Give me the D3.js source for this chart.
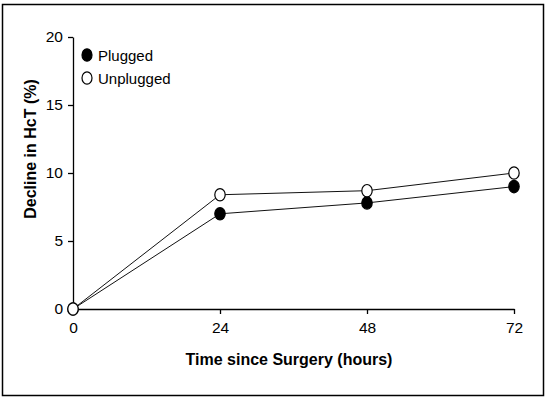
<!DOCTYPE html>
<html>
<head>
<meta charset="utf-8">
<script src="https://cdn.jsdelivr.net/npm/d3@7"></script>
<style>
  body { margin: 0; background: #fff; }
  text { font-family: "Liberation Sans", Arial, sans-serif; }
</style>
</head>
<body>
<script>
// values
const hours = [0, 24, 48, 72]
const plugged = [0, 7.0, 7.8, 9.0]
const unplugged = [0, 8.4, 8.7, 10.0]
const pluggedErr = [0, 0.35, 0.25, 0.25]
const unpluggedErr = [0, 0.35, 0.25, 0.25]
const yTicks = [0, 5, 10, 15, 20]

const width = 548
const height = 399

const svg = d3.select('body').append('svg')
  .attr('width', width)
  .attr('height', height)

// outer frame
svg.append('rect')
  .attr('x', 2.5).attr('y', 4.5)
  .attr('width', 541).attr('height', 391)
  .attr('fill', 'none')
  .attr('stroke', '#000')
  .attr('stroke-width', 1.5)

const x = d3.scaleLinear().domain([0, 72]).range([73, 514])
const y = d3.scaleLinear().domain([0, 20]).range([309, 37])

const xAxis = svg.append('g')
  .attr('transform', `translate(0,${y(0)})`)
  .call(d3.axisBottom(x).tickValues(hours).tickSize(5).tickPadding(6).tickSizeOuter(0))
const yAxis = svg.append('g')
  .attr('transform', `translate(${x(0)},0)`)
  .call(d3.axisLeft(y).tickValues(yTicks).tickSize(5).tickPadding(5).tickSizeOuter(0))

for (const ax of [xAxis, yAxis]) {
  ax.select('.domain').attr('stroke', '#000').attr('stroke-width', 1.3)
  ax.selectAll('.tick line').attr('stroke', '#000').attr('stroke-width', 1.3)
  ax.selectAll('.tick text')
    .attr('fill', '#000')
    .style('font-family', '"Liberation Sans", Arial, sans-serif')
    .style('font-size', '15.5px')
}
xAxis.selectAll('.tick text').attr('dy', '0.85em')

// axis titles
svg.append('text')
  .attr('x', 289).attr('y', 365)
  .attr('text-anchor', 'middle')
  .style('font-size', '16px').style('font-weight', 'bold')
  .text('Time since Surgery (hours)')

svg.append('text')
  .attr('transform', 'translate(36,149) rotate(-90)')
  .attr('text-anchor', 'middle')
  .style('font-size', '16px').style('font-weight', 'bold')
  .text('Decline in HcT (%)')

const series = [
  { name: 'Plugged', values: plugged, err: pluggedErr, fill: '#000' },
  { name: 'Unplugged', values: unplugged, err: unpluggedErr, fill: '#fff' }
]

const line = d3.line()
  .x((d, i) => x(hours[i]))
  .y(d => y(d))

series.forEach(s => {
  svg.append('path')
    .datum(s.values)
    .attr('d', line)
    .attr('fill', 'none')
    .attr('stroke', '#111')
    .attr('stroke-width', 1)
})

// error bars
series.forEach(s => {
  svg.append('g').selectAll('line')
    .data(s.values)
    .join('line')
    .attr('x1', (d, i) => x(hours[i]))
    .attr('x2', (d, i) => x(hours[i]))
    .attr('y1', (d, i) => y(d - s.err[i]))
    .attr('y2', (d, i) => y(d + s.err[i]))
    .attr('stroke', '#000')
    .attr('stroke-width', 1.2)
})

// markers (plugged first, unplugged on top)
series.forEach(s => {
  svg.append('g').selectAll('ellipse')
    .data(s.values)
    .join('ellipse')
    .attr('cx', (d, i) => x(hours[i]))
    .attr('cy', d => y(d))
    .attr('rx', 5.2)
    .attr('ry', 6.2)
    .attr('fill', s.fill)
    .attr('stroke', '#000')
    .attr('stroke-width', 1.2)
})

// legend
const legend = svg.append('g')
series.forEach((s, i) => {
  const gy = 55 + i * 23
  legend.append('ellipse')
    .attr('cx', 87).attr('cy', gy)
    .attr('rx', 5).attr('ry', 6.2)
    .attr('fill', s.fill)
    .attr('stroke', '#000')
    .attr('stroke-width', 1.2)
  legend.append('text')
    .attr('x', 98).attr('y', gy + 5.5)
    .style('font-size', '15px')
    .text(s.name)
})
</script>
</body>
</html>
